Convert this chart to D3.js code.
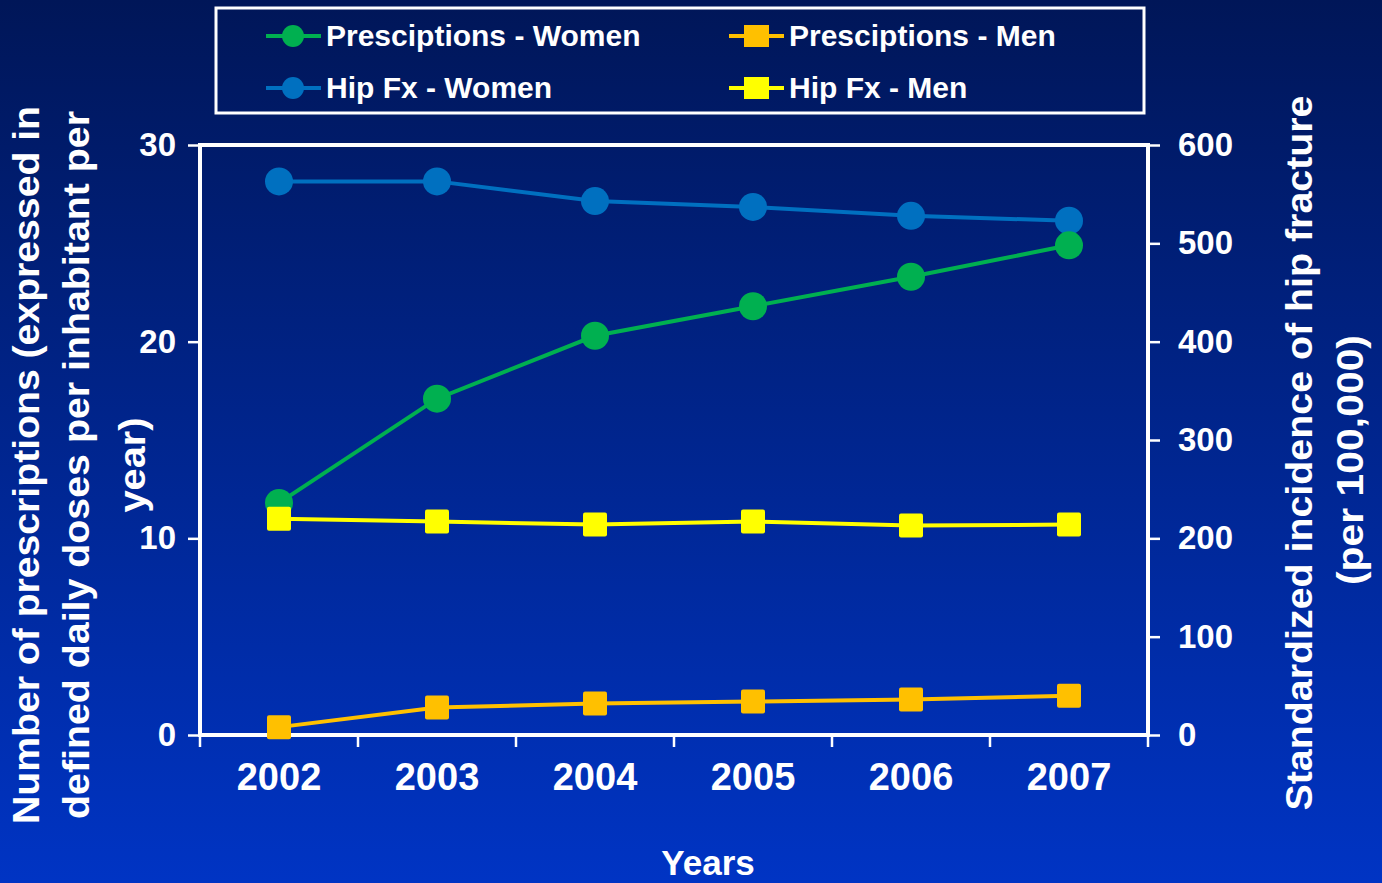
<!DOCTYPE html>
<html>
<head>
<meta charset="utf-8">
<script src="https://cdn.jsdelivr.net/npm/d3@7"></script>
<style>
  html, body { margin: 0; padding: 0; overflow: hidden; }
  body { width: 1382px; height: 883px; }
  text { font-family: "Liberation Sans", Arial, sans-serif; font-weight: bold; fill: #fff; }
</style>
</head>
<body>
<svg id="chart" width="1382" height="883"></svg>
<script>
const years = ["2002", "2003", "2004", "2005", "2006", "2007"];
const rxWomen = [11.8, 17.1, 20.3, 21.8, 23.3, 24.9];
const rxMen = [0.4, 1.4, 1.6, 1.7, 1.8, 2.0];
const hipWomen = [563, 563, 543, 537, 528, 523];
const hipMen = [220, 217, 214, 217, 213, 214];
const leftTicks = [0, 10, 20, 30];
const rightTicks = [0, 100, 200, 300, 400, 500, 600];

const width = 1382;
const height = 883;
const plot = { left: 200, right: 1148, top: 145, bottom: 735 };

const svg = d3.select("#chart");

// Background gradient
const grad = svg.append("defs").append("linearGradient")
  .attr("id", "bg").attr("x1", 0).attr("y1", 0).attr("x2", 0).attr("y2", 1);
grad.append("stop").attr("offset", "0%").attr("stop-color", "#001658");
grad.append("stop").attr("offset", "100%").attr("stop-color", "#0034c4");
svg.append("rect").attr("width", width).attr("height", height).attr("fill", "url(#bg)");

// Scales
const x = d3.scaleBand().domain(years).range([plot.left, plot.right]);
const cx = (d) => x(d) + x.bandwidth() / 2;
const yL = d3.scaleLinear().domain([0, 30]).range([plot.bottom, plot.top]);
const yR = d3.scaleLinear().domain([0, 600]).range([plot.bottom, plot.top]);

// Axes
const leftAxis = svg.append("g")
  .attr("transform", `translate(${plot.left},0)`)
  .call(d3.axisLeft(yL).tickValues(leftTicks).tickSize(12).tickPadding(12));
const rightAxis = svg.append("g")
  .attr("transform", `translate(${plot.right},0)`)
  .call(d3.axisRight(yR).tickValues(rightTicks).tickSize(12).tickPadding(18));
const bottomAxis = svg.append("g")
  .attr("transform", `translate(0,${plot.bottom})`)
  .call(d3.axisBottom(x).tickSize(0).tickPadding(28));

[leftAxis, rightAxis, bottomAxis].forEach((g) => {
  g.select(".domain").remove();
  g.selectAll(".tick line").attr("stroke", "#fff").attr("stroke-width", 2.5);
  g.selectAll(".tick text").attr("fill", "#fff").attr("font-family", null);
});
leftAxis.selectAll(".tick text").attr("font-size", 33);
rightAxis.selectAll(".tick text").attr("font-size", 33);
bottomAxis.selectAll(".tick text").attr("font-size", 38).attr("dy", "0.71em");

// category boundary ticks on bottom axis
svg.append("g")
  .selectAll("line")
  .data(years.concat(["end"]))
  .enter()
  .append("line")
  .attr("x1", (d, i) => plot.left + i * x.step())
  .attr("x2", (d, i) => plot.left + i * x.step())
  .attr("y1", plot.bottom)
  .attr("y2", plot.bottom + 12)
  .attr("stroke", "#fff")
  .attr("stroke-width", 2.5);

// Plot frame
svg.append("rect")
  .attr("x", plot.left).attr("y", plot.top)
  .attr("width", plot.right - plot.left).attr("height", plot.bottom - plot.top)
  .attr("fill", "none").attr("stroke", "#fff").attr("stroke-width", 4);

// Series
const series = [
  { name: "Hip Fx - Women", values: hipWomen, scale: yR, color: "#0070c0", shape: "circle" },
  { name: "Presciptions - Women", values: rxWomen, scale: yL, color: "#00b050", shape: "circle" },
  { name: "Presciptions - Men", values: rxMen, scale: yL, color: "#ffc000", shape: "square" },
  { name: "Hip Fx - Men", values: hipMen, scale: yR, color: "#ffff00", shape: "square" },
];

series.forEach((s) => {
  const pts = years.map((yr, i) => [cx(yr), s.scale(s.values[i])]);
  const g = svg.append("g");
  g.append("path")
    .attr("d", d3.line()(pts))
    .attr("fill", "none")
    .attr("stroke", s.color)
    .attr("stroke-width", 4);
  if (s.shape === "circle") {
    g.selectAll("circle").data(pts).enter().append("circle")
      .attr("cx", (d) => d[0]).attr("cy", (d) => d[1]).attr("r", 14)
      .attr("fill", s.color);
  } else {
    g.selectAll("rect").data(pts).enter().append("rect")
      .attr("x", (d) => d[0] - 12).attr("y", (d) => d[1] - 12)
      .attr("width", 24).attr("height", 24).attr("rx", 2)
      .attr("fill", s.color);
  }
});

// Legend
svg.append("rect")
  .attr("x", 216).attr("y", 8).attr("width", 928).attr("height", 105)
  .attr("fill", "none").attr("stroke", "#fff").attr("stroke-width", 3);

const legendItems = [
  { s: series[1], x: 266, y: 36 },
  { s: series[2], x: 729, y: 36 },
  { s: series[0], x: 266, y: 88 },
  { s: series[3], x: 729, y: 88 },
];
const leg = svg.append("g").selectAll("g").data(legendItems).enter().append("g")
  .attr("transform", (d) => `translate(${d.x},${d.y})`);
leg.append("line")
  .attr("x1", 0).attr("x2", 55).attr("y1", 0).attr("y2", 0)
  .attr("stroke", (d) => d.s.color).attr("stroke-width", 4);
leg.filter((d) => d.s.shape === "circle").append("circle")
  .attr("cx", 27).attr("cy", 0).attr("r", 11).attr("fill", (d) => d.s.color);
leg.filter((d) => d.s.shape === "square").append("rect")
  .attr("x", 15).attr("y", -11).attr("width", 25).attr("height", 22)
  .attr("fill", (d) => d.s.color);
leg.append("text")
  .attr("x", 60).attr("y", 10)
  .attr("font-size", 30)
  .text((d) => d.s.name);

// Axis titles
const leftTitle = [
  { t: "Number of prescriptions (expressed in", x: 39, len: 718 },
  { t: "defined daily doses per inhabitant per", x: 89, len: 708 },
  { t: "year)", x: 145, len: 95 },
];
svg.append("g").selectAll("text").data(leftTitle).enter().append("text")
  .attr("transform", (d) => `translate(${d.x},465) rotate(-90)`)
  .attr("text-anchor", "middle")
  .attr("font-size", 36)
  .attr("textLength", (d) => d.len)
  .attr("lengthAdjust", "spacingAndGlyphs")
  .text((d) => d.t);

const rightTitle = [
  { t: "Standardized incidence of hip fracture", x: 1312, y: 453, len: 715 },
  { t: "(per 100,000)", x: 1363, y: 460, len: 250 },
];
svg.append("g").selectAll("text").data(rightTitle).enter().append("text")
  .attr("transform", (d) => `translate(${d.x},${d.y}) rotate(-90)`)
  .attr("text-anchor", "middle")
  .attr("font-size", 36)
  .attr("textLength", (d) => d.len)
  .attr("lengthAdjust", "spacingAndGlyphs")
  .text((d) => d.t);

svg.append("text")
  .attr("x", 708).attr("y", 875)
  .attr("text-anchor", "middle")
  .attr("font-size", 35)
  .text("Years");
</script>
</body>
</html>
